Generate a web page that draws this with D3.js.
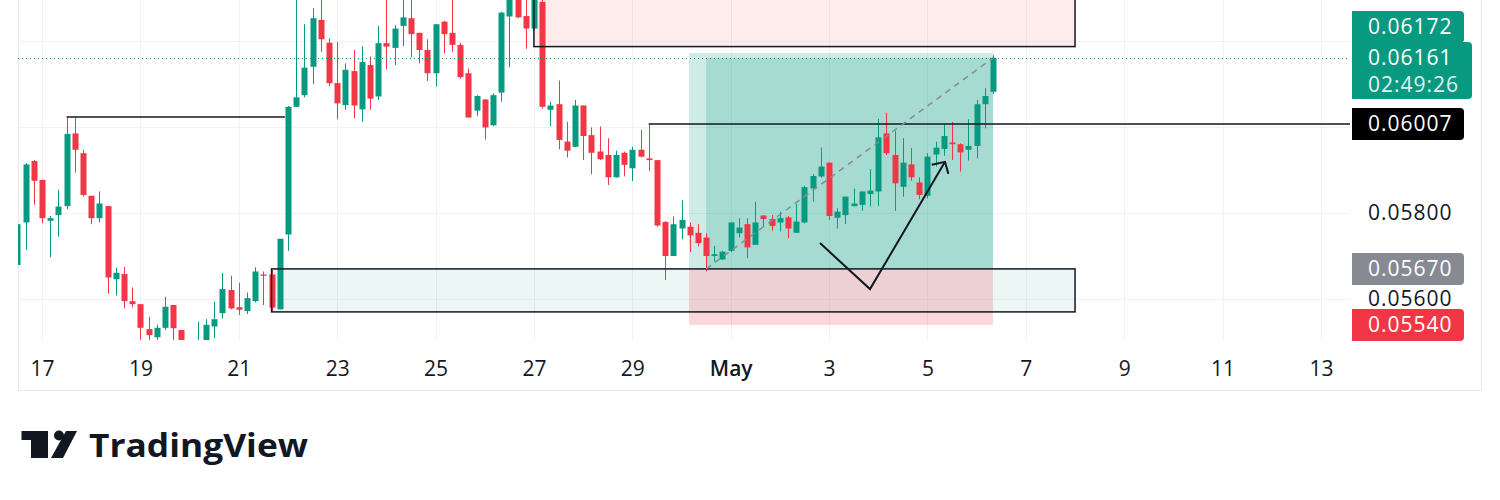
<!DOCTYPE html>
<html>
<head>
<meta charset="utf-8">
<script src="https://cdn.jsdelivr.net/npm/d3@7"></script>
<style>
body{margin:0;background:#fff}
svg{display:block}
text{font-family:"Open Sans",sans-serif}
</style>
</head>
<body>
<div id="chart"></div>
<script>
// 4h candles, first one opens 16 Apr 12:00 UTC
var startTime = Date.UTC(2024, 3, 16, 12);
var opens = [0.05679,0.05778,0.05921,0.05877,0.05782,0.05795,0.05816,0.05985,0.05939,0.05840,
  0.05788,0.05816,0.05646,0.05658,0.05595,0.05588,0.05530,0.05511,0.05533,0.05586,
  0.05528,0.05494,0.05490,0.05500,0.05536,0.05567,0.05621,0.05581,0.05572,0.05595,
  0.05657,0.05657,0.05576,0.05750,0.06047,0.06074,0.06140,0.06249,0.06196,0.06102,
  0.06051,0.06130,0.06041,0.06144,0.06071,0.06195,0.06184,0.06235,0.06253,0.06219,
  0.06179,0.06125,0.06245,0.06219,0.06191,0.06125,0.06038,0.06064,0.06004,0.06080,
  0.06257,0.06300,0.06258,0.06229,0.06291,0.06040,0.06053,0.05966,0.05954,0.06050,
  0.05981,0.05943,0.05935,0.05883,0.05940,0.05904,0.05947,0.05927,0.05923,0.05779,
  0.05700,0.05764,0.05768,0.05754,0.05743,0.05700,0.05692,0.05712,0.05753,0.05774,
  0.05726,0.05794,0.05786,0.05778,0.05790,0.05754,0.05778,0.05857,0.05885,0.05917,
  0.05789,0.05795,0.05816,0.05819,0.05844,0.05850,0.05985,0.05935,0.05861,0.05913,
  0.05871,0.05840,0.05936,0.05949,0.05964,0.05960,0.05947,0.05956,0.06053,0.06082];
var highs = [0.05776,0.05916,0.05923,0.05877,0.05793,0.05854,0.06023,0.06023,0.05947,0.05840,
  0.05850,0.05816,0.05673,0.05675,0.05627,0.05588,0.05559,0.05540,0.05605,0.05586,
  0.05528,0.05500,0.05547,0.05553,0.05594,0.05661,0.05654,0.05638,0.05615,0.05674,
  0.05664,0.05668,0.05740,0.06049,0.06310,0.06239,0.06276,0.06300,0.06206,0.06198,
  0.06148,0.06179,0.06188,0.06164,0.06235,0.06300,0.06237,0.06300,0.06305,0.06219,
  0.06204,0.06239,0.06247,0.06300,0.06196,0.06136,0.06074,0.06064,0.06078,0.06268,
  0.06310,0.06310,0.06300,0.06310,0.06300,0.06059,0.06108,0.06012,0.06063,0.06050,
  0.05999,0.06001,0.05974,0.05945,0.05943,0.05954,0.05993,0.06007,0.05923,0.05781,
  0.05792,0.05830,0.05778,0.05774,0.05753,0.05724,0.05712,0.05778,0.05788,0.05788,
  0.05826,0.05795,0.05795,0.05803,0.05793,0.05821,0.05863,0.05891,0.05952,0.05917,
  0.05811,0.05838,0.05857,0.05850,0.05902,0.06019,0.06033,0.05991,0.05974,0.05951,
  0.05883,0.05939,0.05966,0.06007,0.06012,0.05962,0.06018,0.06063,0.06090,0.06167];
var lows = [0.05679,0.05714,0.05819,0.05776,0.05697,0.05745,0.05809,0.05894,0.05838,0.05774,
  0.05778,0.05612,0.05608,0.05578,0.05581,0.05500,0.05500,0.05505,0.05528,0.05500,
  0.05490,0.05480,0.05485,0.05495,0.05509,0.05555,0.05576,0.05563,0.05565,0.05592,
  0.05586,0.05571,0.05576,0.05712,0.06047,0.06069,0.06100,0.06175,0.06095,0.06018,
  0.06040,0.06020,0.06012,0.06040,0.06063,0.06134,0.06144,0.06188,0.06162,0.06148,
  0.06107,0.06094,0.06171,0.06175,0.06112,0.06022,0.06026,0.05971,0.06002,0.06059,
  0.06139,0.06253,0.06182,0.06225,0.06043,0.06002,0.05948,0.05929,0.05953,0.05923,
  0.05890,0.05923,0.05865,0.05882,0.05885,0.05874,0.05929,0.05898,0.05768,0.05644,
  0.05700,0.05739,0.05709,0.05722,0.05664,0.05687,0.05691,0.05709,0.05743,0.05695,
  0.05726,0.05768,0.05759,0.05757,0.05741,0.05753,0.05776,0.05826,0.05882,0.05784,
  0.05764,0.05774,0.05815,0.05805,0.05815,0.05816,0.05935,0.05805,0.05838,0.05875,
  0.05832,0.05834,0.05908,0.05933,0.05923,0.05896,0.05922,0.05927,0.05997,0.06077];
var closes = [0.05774,0.05913,0.05875,0.05788,0.05788,0.05815,0.05984,0.05947,0.05842,0.05788,
  0.05822,0.05650,0.05661,0.05595,0.05588,0.05533,0.05516,0.05533,0.05582,0.05532,
  0.05495,0.05490,0.05500,0.05540,0.05553,0.05623,0.05578,0.05575,0.05602,0.05664,
  0.05654,0.05580,0.05740,0.06047,0.06069,0.06138,0.06253,0.06204,0.06102,0.06055,
  0.06133,0.06050,0.06151,0.06066,0.06195,0.06187,0.06229,0.06255,0.06216,0.06179,
  0.06125,0.06239,0.06216,0.06191,0.06116,0.06022,0.06072,0.05999,0.06074,0.06266,
  0.06300,0.06255,0.06229,0.06300,0.06047,0.06050,0.05970,0.05945,0.06050,0.05979,
  0.05940,0.05925,0.05883,0.05935,0.05912,0.05947,0.05931,0.05923,0.05771,0.05700,
  0.05774,0.05784,0.05748,0.05730,0.05700,0.05704,0.05710,0.05778,0.05766,0.05720,
  0.05778,0.05786,0.05770,0.05788,0.05764,0.05780,0.05860,0.05886,0.05908,0.05793,
  0.05803,0.05838,0.05822,0.05850,0.05852,0.05976,0.05939,0.05869,0.05917,0.05883,
  0.05842,0.05931,0.05952,0.05979,0.05960,0.05941,0.05956,0.06053,0.06072,0.06161];

var xTickLabels = ["17","19","21","23","25","27","29","May","3","5","7","9","11","13"];
var yGridValues = [0.056, 0.058, 0.060, 0.062];
// 0.06000 and 0.06200 sit under the price tags, so only these two are printed
var yTickLabels = [0.056, 0.058];

// drawings: [time, price]
var resistanceLine = [["2024-04-17T12:00Z", 0.06023], ["2024-04-21T22:30Z", 0.06023]];
var levelLine = [["2024-04-29T08:00Z", 0.06007]];
var supplyBox = {from: "2024-04-27T00:00Z", to: "2024-05-08T00:00Z", top: 0.06400, bottom: 0.06187};
var demandBox = {from: "2024-04-21T16:00Z", to: "2024-05-08T00:00Z", top: 0.05670, bottom: 0.05570};
var position = {from: "2024-04-30T03:40Z", entryTime: "2024-04-30T12:00Z", to: "2024-05-06T08:00Z",
  target: 0.06172, entry: 0.05670, stop: 0.05540};
var vPath = [["2024-05-02T19:35Z", 0.05730], ["2024-05-03T19:58Z", 0.05623], ["2024-05-05T08:34Z", 0.05919]];
var arrowHead = [["2024-05-05T02:05Z", 0.05912], ["2024-05-05T08:34Z", 0.05919], ["2024-05-05T10:12Z", 0.05891]];
var countdown = "02:49:26";

var up = "#089981", down = "#f23645";
var plot = {left: 18, right: 1350, top: 0, bottom: 340};

var svg = d3.select("#chart").append("svg").attr("width", 1500).attr("height", 500);
svg.append("rect").attr("width", 1500).attr("height", 500).attr("fill", "#fff");

svg.append("clipPath").attr("id", "clip").append("rect")
  .attr("x", plot.left).attr("y", plot.top)
  .attr("width", plot.right - plot.left).attr("height", plot.bottom - plot.top);

var x = d3.scaleUtc()
  .domain([new Date(Date.UTC(2024, 3, 17)), new Date(Date.UTC(2024, 4, 13))])
  .range([42, 1321]);
var y = d3.scaleLinear().domain([0.055, 0.063]).range([342, -2]);
var t = function(s) { return new Date(s); };

var times = opens.map(function(d, k) { return d3.utcHour.offset(new Date(startTime), 4 * k); });
var candles = opens.map(function(d, k) {
  return {t: times[k], o: opens[k], h: highs[k], l: lows[k], c: closes[k]};
});
var tickDates = d3.utcDay.every(2).range(new Date(Date.UTC(2024, 3, 17)), new Date(Date.UTC(2024, 4, 14)));

// frame
svg.append("rect").attr("x", plot.left + 0.5).attr("y", -1).attr("width", 1463).attr("height", 391.5)
  .attr("fill", "none").attr("stroke", "#e6e8ee");

// grid
var grid = svg.append("g").attr("clip-path", "url(#clip)");
grid.selectAll(".hg").data(yGridValues).enter().append("line")
  .attr("x1", plot.left).attr("x2", plot.right)
  .attr("y1", function(d) { return Math.round(y(d)) + 0.5; })
  .attr("y2", function(d) { return Math.round(y(d)) + 0.5; })
  .attr("stroke", "#f0f2f5");
grid.selectAll(".vg").data(tickDates).enter().append("line")
  .attr("x1", function(d) { return Math.round(x(d)) + 0.5; })
  .attr("x2", function(d) { return Math.round(x(d)) + 0.5; })
  .attr("y1", plot.top).attr("y2", plot.bottom)
  .attr("stroke", "#f0f2f5");

// zone fills (under candles)
var fills = svg.append("g").attr("clip-path", "url(#clip)");
fills.append("rect")
  .attr("x", x(t(supplyBox.from))).attr("width", x(t(supplyBox.to)) - x(t(supplyBox.from)))
  .attr("y", y(supplyBox.top)).attr("height", y(supplyBox.bottom) - y(supplyBox.top))
  .attr("fill", "rgba(242,54,69,0.1)");
fills.append("rect")
  .attr("x", x(t(demandBox.from))).attr("width", x(t(demandBox.to)) - x(t(demandBox.from)))
  .attr("y", y(demandBox.top)).attr("height", y(demandBox.bottom) - y(demandBox.top))
  .attr("fill", "rgba(8,153,129,0.08)");
var px0 = x(t(position.from)), px1 = x(t(position.to)), pxe = x(t(position.entryTime));
fills.append("rect").attr("x", px0).attr("width", px1 - px0)
  .attr("y", y(position.target)).attr("height", y(position.entry) - y(position.target))
  .attr("fill", "rgba(8,153,129,0.2)");
fills.append("rect").attr("x", pxe).attr("width", px1 - pxe)
  .attr("y", y(closes[closes.length - 1])).attr("height", y(position.entry) - y(closes[closes.length - 1]))
  .attr("fill", "rgba(8,153,129,0.2)");
fills.append("rect").attr("x", px0).attr("width", px1 - px0)
  .attr("y", y(position.entry)).attr("height", y(position.stop) - y(position.entry))
  .attr("fill", "rgba(242,54,69,0.2)");

// candles
var cg = svg.append("g").attr("clip-path", "url(#clip)");
cg.selectAll(".wick").data(candles).enter().append("line")
  .attr("x1", function(d) { return Math.round(x(d.t)) + 0.5; })
  .attr("x2", function(d) { return Math.round(x(d.t)) + 0.5; })
  .attr("y1", function(d) { return y(d.h); })
  .attr("y2", function(d) { return y(d.l); })
  .attr("stroke", function(d) { return d.c >= d.o ? up : down; });
cg.selectAll(".body").data(candles).enter().append("rect")
  .attr("x", function(d) { return Math.round(x(d.t)) - 2.5; })
  .attr("width", 6)
  .attr("y", function(d) { return y(Math.max(d.o, d.c)); })
  .attr("height", function(d) { return Math.max(1, Math.abs(y(d.o) - y(d.c))); })
  .attr("fill", function(d) { return d.c >= d.o ? up : down; });

// drawings on top
var dg = svg.append("g").attr("clip-path", "url(#clip)");
var line = d3.line().x(function(d) { return x(t(d[0])); }).y(function(d) { return y(d[1]); });
[supplyBox, demandBox].forEach(function(b) {
  dg.append("rect")
    .attr("x", x(t(b.from))).attr("width", x(t(b.to)) - x(t(b.from)))
    .attr("y", y(b.top)).attr("height", y(b.bottom) - y(b.top))
    .attr("fill", "none").attr("stroke", "#131722").attr("stroke-width", 1.5);
});
dg.append("path").attr("d", line(resistanceLine)).attr("fill", "none")
  .attr("stroke", "#131722").attr("stroke-width", 1.5);
dg.append("line")
  .attr("x1", x(t(levelLine[0][0]))).attr("x2", plot.right)
  .attr("y1", y(levelLine[0][1])).attr("y2", y(levelLine[0][1]))
  .attr("stroke", "#131722").attr("stroke-width", 1.5);
dg.append("line")
  .attr("x1", pxe).attr("y1", y(position.entry))
  .attr("x2", px1).attr("y2", y(closes[closes.length - 1]))
  .attr("stroke", "#888b94").attr("stroke-width", 1.5).attr("stroke-dasharray", "6,5");
dg.append("path").attr("d", line(vPath)).attr("fill", "none")
  .attr("stroke", "#131722").attr("stroke-width", 2);
dg.append("path").attr("d", line(arrowHead)).attr("fill", "none")
  .attr("stroke", "#131722").attr("stroke-width", 2);
dg.append("line")
  .attr("x1", plot.left).attr("x2", plot.right)
  .attr("y1", Math.round(y(closes[closes.length - 1])) + 0.5)
  .attr("y2", Math.round(y(closes[closes.length - 1])) + 0.5)
  .attr("stroke", up).attr("stroke-dasharray", "1,3");

// x axis
var xAxis = d3.axisBottom(x).tickValues(tickDates)
  .tickFormat(function(d, i) { return xTickLabels[i]; }).tickSize(0);
var xg = svg.append("g").attr("transform", "translate(0,358)").call(xAxis);
xg.select(".domain").remove();
xg.selectAll("text").attr("font-family", "Open Sans").attr("font-size", 21).attr("fill", "#131722")
  .attr("font-weight", function(d, i) { return xTickLabels[i] === "May" ? 600 : 400; });

// y axis
var yAxis = d3.axisRight(y).tickValues(yTickLabels).tickFormat(d3.format(".5f")).tickSize(0);
var yg = svg.append("g").attr("transform", "translate(1368,0)").call(yAxis);
yg.select(".domain").remove();
yg.selectAll("text").attr("x", 0).attr("text-anchor", "start")
  .attr("font-family", "Open Sans").attr("font-size", 21).attr("letter-spacing", 1).attr("fill", "#131722");

// price tags
function tag(top, height, width, color) {
  var x0 = 1352, x1 = x0 + width, r = 4, y1 = top + height;
  svg.append("path")
    .attr("d", "M" + x0 + "," + top + "H" + (x1 - r) + "Q" + x1 + "," + top + " " + x1 + "," + (top + r) +
      "V" + (y1 - r) + "Q" + x1 + "," + y1 + " " + (x1 - r) + "," + y1 + "H" + x0 + "Z")
    .attr("fill", color);
}
function tagText(cy, s, op) {
  svg.append("text").attr("x", 1368).attr("y", cy).attr("dy", "0.35em")
    .attr("font-size", 21).attr("letter-spacing", 1)
    .attr("fill", "#fff").attr("fill-opacity", op || 1).text(s);
}
var fmt = d3.format(".5f");
var last = closes[closes.length - 1];
var lastTop = Math.round(y(last)) - 16;
tag(lastTop - 31, 32, 112, up);
tagText(lastTop - 15, fmt(position.target));
tag(lastTop, 57, 120, up);
tagText(lastTop + 16, fmt(last));
tagText(lastTop + 43, countdown, 0.9);
var lv = levelLine[0][1];
tag(Math.round(y(lv)) - 16, 32, 112, "#000");
tagText(Math.round(y(lv)), fmt(lv));
tag(Math.round(y(position.entry)) - 16, 32, 112, "#878a93");
tagText(Math.round(y(position.entry)), fmt(position.entry));
tag(Math.round(y(position.stop)) - 16, 32, 112, down);
tagText(Math.round(y(position.stop)), fmt(position.stop));

// watermark
var logo = svg.append("g").attr("fill", "#131722");
logo.append("path").attr("d", "M21.5,431H48V458H31V440H21.5Z");
logo.append("circle").attr("cx", 59).attr("cy", 435.5).attr("r", 5);
logo.append("path").attr("d", "M66,431H77L63,458H51Z");
logo.append("text").attr("x", 89).attr("y", 457).attr("font-family", "Inter")
  .attr("font-weight", 700).attr("font-size", 33).attr("textLength", 219)
  .attr("lengthAdjust", "spacingAndGlyphs").text("TradingView");
</script>
</body>
</html>
